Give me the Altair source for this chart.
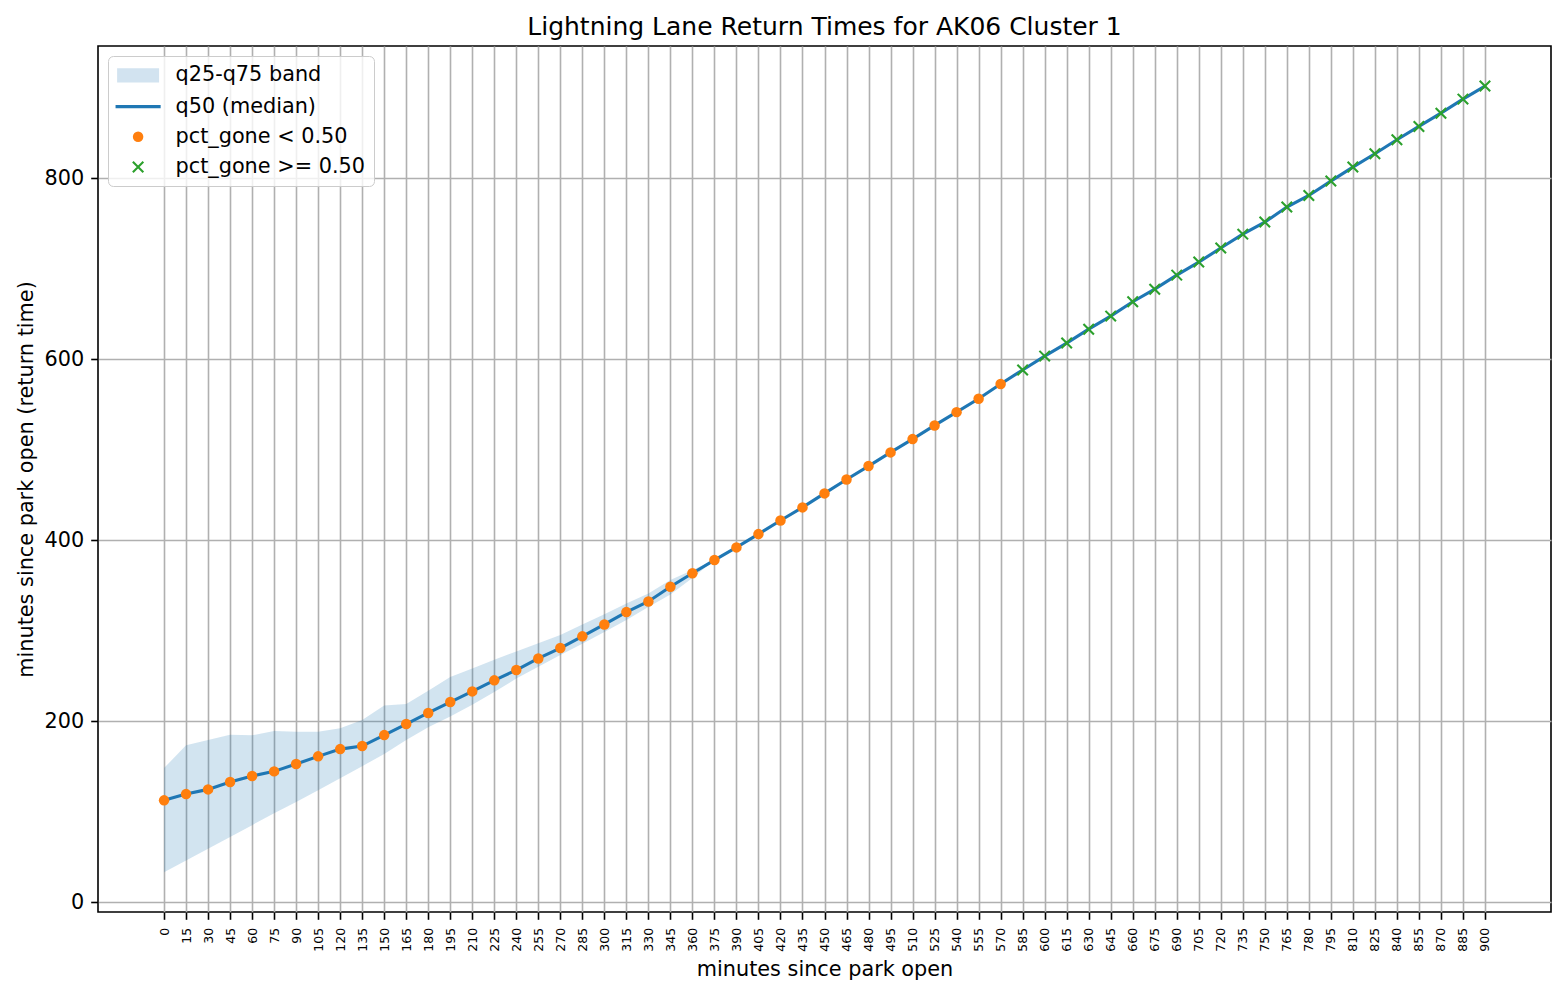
import altair as alt
import pandas as pd

TITLE = "Lightning Lane Return Times for AK06 Cluster 1"
X_TITLE = "minutes since park open"
Y_TITLE = "minutes since park open (return time)"
SERIES = ["q25-q75 band", "q50 (median)", "pct_gone < 0.50", "pct_gone >= 0.50"]
FILLS = ["#d2e3f0", "#1f77b4", "#ff7f0e", "transparent"]
STROKES = ["transparent", "transparent", "transparent", "#2ca02c"]

# time slots (minutes since park open)
minutes = [0, 15, 30, 45, 60, 75, 90, 105, 120, 135, 150, 165, 180, 195, 210,
           225, 240, 255, 270, 285, 300, 315, 330, 345, 360, 375, 390, 405, 420,
           435, 450, 465, 480, 495, 510, 525, 540, 555, 570, 585, 600, 615, 630,
           645, 660, 675, 690, 705, 720, 735, 750, 765, 780, 795, 810, 825, 840,
           855, 870, 885, 900]

# median return time
q50 = [112.4, 119.3, 124.5, 132.6, 139.2, 144.4, 152.5, 161.0, 169.0, 172.4,
       184.5, 196.7, 209.0, 221.0, 232.8, 245.0, 256.4, 269.2, 280.7, 293.6,
       306.8, 320.4, 332.2, 348.5, 363.3, 377.9, 391.9, 406.6, 421.7, 436.1,
       451.6, 467.0, 481.8, 496.9, 511.6, 526.7, 541.4, 556.2, 572.4, 588.0,
       603.3, 617.7, 633.1, 647.5, 663.4, 677.3, 692.8, 707.2, 722.7, 738.1,
       751.4, 768.0, 780.8, 796.7, 812.2, 826.9, 842.4, 857.1, 871.8, 887.3,
       901.7]

# interquartile band (where it is visible: 0 .. 375)
band_minutes = [0, 15, 30, 45, 60, 75, 90, 105, 120, 135, 150, 165, 180, 195,
                210, 225, 240, 255, 270, 285, 300, 315, 330, 345, 360, 375]
q25 = [33.0, 46.0, 59.0, 72.0, 85.0, 98.0, 110.6, 123.6, 136.8, 150.1, 163.7,
       179.2, 193.2, 205.0, 218.0, 232.0, 247.0, 260.0, 273.0, 285.5, 298.5,
       311.6, 326.0, 340.0, 358.0, 377.9]
q75 = [148.0, 173.3, 179.2, 185.0, 184.2, 189.0, 188.2, 188.2, 192.0, 201.2,
       217.2, 218.8, 233.5, 248.8, 258.0, 267.7, 277.0, 286.0, 295.0, 306.8,
       318.0, 330.0, 341.0, 355.8, 366.9, 377.9]

# first slot where pct_gone >= 0.50
gone_from_minute = 585

pts = pd.DataFrame({"minute": minutes, "q50": q50})
pts["series"] = [SERIES[3] if m >= gone_from_minute else SERIES[2] for m in minutes]
band = pd.DataFrame({"minute": band_minutes, "q25": q25, "q75": q75})

FONT = "DejaVu Sans"
xscale = alt.Scale(domain=[-45, 945], nice=False, zero=False)
yscale = alt.Scale(domain=[-11, 946], nice=False, zero=False)

xaxis = alt.Axis(values=minutes, labelAngle=270, labelAlign="right",
                 labelBaseline="middle", labelFontSize=12.5, labelPadding=8,
                 labelOverlap=False, labelFlush=False, title=X_TITLE,
                 titlePadding=8)
yaxis = alt.Axis(values=[0, 200, 400, 600, 800], labelFontSize=20.8,
                 labelPadding=7, title=Y_TITLE, titlePadding=8)

X = alt.X("minute:Q", scale=xscale, axis=xaxis)
Y = alt.Y("q50:Q", scale=yscale, axis=yaxis)

# legend patch shapes: wide box, line, circle, x
SHAPES = ["M-4,-1.35H4V1.35H-4Z", "M-4.3,-0.3H4.3V0.3H-4.3Z", "circle",
          "M-1,-1L1,1M-1,1L1,-1"]

def make_legend():
    return alt.Legend(
        title=None, orient="none", legendX=10, legendY=10,
        fillColor="rgba(255,255,255,0.8)", strokeColor="#cccccc",
        cornerRadius=5, padding=9,
        labelFontSize=20.8, labelFont=FONT, labelColor="black", labelLimit=500,
        symbolSize=110, symbolOffset=10.7, labelOffset=27, rowPadding=8.2,
        symbolStrokeWidth=2.1, symbolOpacity=1,
    )

fill_enc = alt.Fill("series:N", scale=alt.Scale(domain=SERIES, range=FILLS),
                    legend=make_legend())
stroke_enc = alt.Stroke("series:N", scale=alt.Scale(domain=SERIES, range=STROKES),
                        legend=make_legend())
shape_enc = alt.Shape("series:N", scale=alt.Scale(domain=SERIES, range=SHAPES),
                      legend=make_legend())

area = alt.Chart(band).mark_area(color="#1f77b4", opacity=0.2).encode(
    x=X, y=alt.Y("q25:Q", scale=yscale, axis=yaxis), y2="q75:Q")

line = alt.Chart(pts).mark_line(color="#1f77b4", strokeWidth=3.1).encode(x=X, y=Y)

points = alt.Chart(pts).mark_point(size=110, opacity=1, strokeWidth=2.1).encode(
    x=X, y=Y, fill=fill_enc, stroke=stroke_enc, shape=shape_enc)

chart = alt.layer(area, line, points).properties(
    width=1453, height=866,
    title=alt.TitleParams(TITLE, fontSize=25, font=FONT, fontWeight="normal",
                          anchor="middle", frame="group", offset=6,
                          color="black"),
    autosize=alt.AutoSizeParams(type="none"),
    padding={"left": 90, "top": 38, "right": 6, "bottom": 70},
).configure(font=FONT).configure_view(
    stroke="black", strokeWidth=1.6
).configure_axis(
    domain=False, grid=True, gridColor="#b0b0b0", gridWidth=1.6,
    tickColor="black", tickWidth=1.6, tickSize=7.3,
    labelFont=FONT, labelColor="black", titleFont=FONT, titleFontSize=20.8,
    titleFontWeight="normal", titleColor="black",
)

chart.save("out.html", embed_options={"renderer": "svg", "actions": False})
